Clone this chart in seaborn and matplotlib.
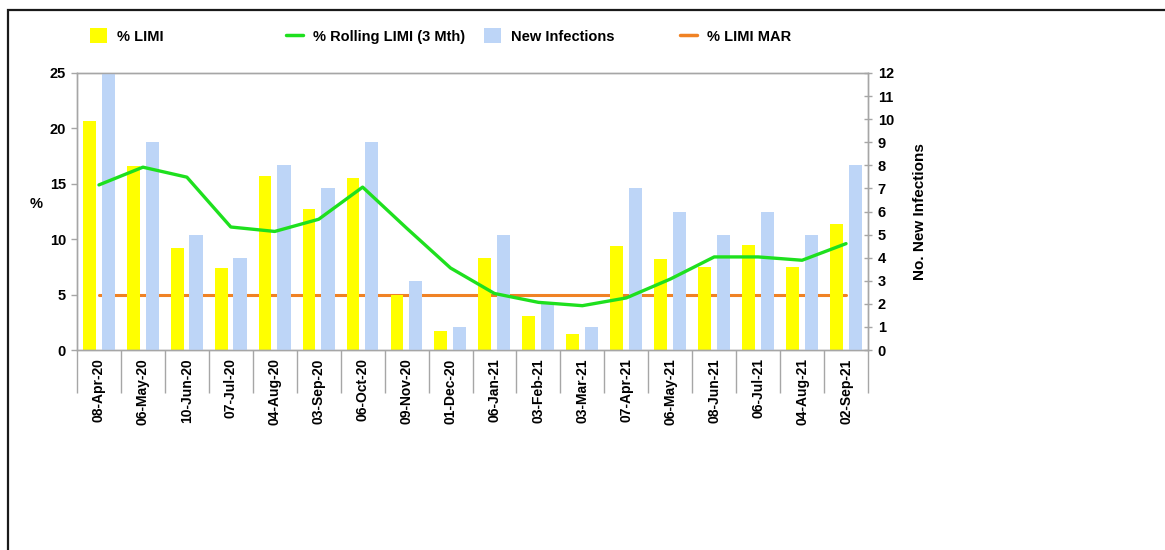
import numpy as np
import pandas as pd
import matplotlib
matplotlib.use("Agg")
import matplotlib.pyplot as plt
from matplotlib.patches import Rectangle, Patch
from matplotlib.lines import Line2D
import seaborn as sns

# Set style
sns.set_theme(style="white")
plt.rcParams["font.family"] = ["Liberation Sans", "DejaVu Sans"]
plt.rcParams["font.weight"] = "bold"
plt.rcParams["text.color"] = "black"
plt.rcParams["axes.labelcolor"] = "black"
plt.rcParams["xtick.labelcolor"] = "black"
plt.rcParams["ytick.labelcolor"] = "black"

# === Data ===
dates = ["08-Apr-20", "06-May-20", "10-Jun-20", "07-Jul-20", "04-Aug-20", "03-Sep-20",
         "06-Oct-20", "09-Nov-20", "01-Dec-20", "06-Jan-21", "03-Feb-21", "03-Mar-21",
         "07-Apr-21", "06-May-21", "08-Jun-21", "06-Jul-21", "04-Aug-21", "02-Sep-21"]
limi_pct = [20.7, 16.6, 9.2, 7.4, 15.7, 12.7, 15.5, 5.0, 1.7, 8.3, 3.1, 1.45,
            9.35, 8.2, 7.5, 9.5, 7.5, 11.4]
rolling_pct = [14.9, 16.5, 15.6, 11.1, 10.7, 11.8, 14.7, 11.0, 7.4, 5.1, 4.3, 4.0,
               4.7, 6.4, 8.4, 8.4, 8.1, 9.6]
new_infections = [12, 9, 5, 4, 8, 7, 9, 3, 1, 5, 2, 1, 7, 6, 5, 6, 5, 8]
limi_mar = [5, 5, 5, 5, 5, 5, 5, 5, 5, 5, 5, 5, 5, 5, 5, 5, 5, 5]

df = pd.DataFrame({"Date": dates, "LIMI": limi_pct, "Rolling": rolling_pct,
                   "Infections": new_infections, "MAR": limi_mar})
df["pos"] = np.arange(len(df))

# === Colours ===
c_yellow = "#FFFF00"
c_blue = "#BDD5F7"
c_green = "#1EE01E"
c_orange = "#F08224"
c_axis = "#A6A6A6"

W, H = 1165, 550
fig = plt.figure(figsize=(W / 100, H / 100), dpi=100)
fig.patch.set_facecolor("white")
ax = fig.add_axes([77 / W, 1 - 350 / H, (868 - 77) / W, (350 - 73) / H])
ax2 = ax.twinx()
ax3 = ax.twinx()

# === Orange target line + yellow bars (left axis, back) ===
sns.lineplot(x=df["pos"], y=df["MAR"], color=c_orange, linewidth=2.2, ax=ax, zorder=1)
sns.barplot(x=df["pos"] - 0.22, y=df["LIMI"], native_scale=True, width=0.29,
            color=c_yellow, saturation=1, errorbar=None, linewidth=0, ax=ax, zorder=2)

# === Blue bars (right axis) ===
sns.barplot(x=df["pos"] + 0.21, y=df["Infections"], native_scale=True, width=0.30,
            color=c_blue, saturation=1, errorbar=None, linewidth=0, ax=ax2)

# === Green rolling line (front) ===
sns.lineplot(x=df["pos"], y=df["Rolling"], color=c_green, linewidth=2.4, ax=ax3)

# === Axes formatting ===
for a in (ax, ax2, ax3):
    a.set_xlim(-0.5, len(df) - 0.5)
    a.set_xlabel("")
    a.set_ylabel("")
    a.grid(False)

ax.set_ylim(0, 25)
ax3.set_ylim(0, 25)
ax2.set_ylim(0, 12)

ax.set_yticks(np.arange(0, 26, 5))
ax.tick_params(axis="y", which="major", left=True, length=4, width=1, color=c_axis,
               labelsize=10.5, pad=4, labelcolor="black")
ax.set_ylabel("%", rotation=0, fontsize=10.5, fontweight="bold", color="black")
ax.yaxis.set_label_coords(-0.052, 0.5)

ax.set_xticks(np.arange(-0.5, len(df), 1))
ax.set_xticklabels([])
ax.set_xticks(df["pos"], labels=df["Date"], minor=True)
ax.tick_params(axis="x", which="major", bottom=True, length=31, width=1, color=c_axis)
ax.tick_params(axis="x", which="minor", bottom=True, length=0, labelsize=10,
               labelrotation=90, pad=6, labelcolor="black")

ax2.set_yticks(np.arange(0, 13, 1))
ax2.tick_params(axis="y", right=True, direction="inout", length=6, width=1,
                color=c_axis, labelsize=10.5, pad=4, labelcolor="black")
ax2.set_ylabel("No. New Infections", fontsize=11, fontweight="bold", labelpad=14,
               color="black")

ax3.set_yticks([])
ax3.tick_params(axis="y", right=False, labelright=False)
for s in ax3.spines.values():
    s.set_visible(False)

for a in (ax, ax2):
    for s in a.spines.values():
        s.set_color(c_axis)
        s.set_linewidth(1)

# === Legend (four entries spread across the top) ===
entries = [
    (90, Patch(facecolor=c_yellow, edgecolor="none"), "% LIMI"),
    (286, Line2D([], [], color=c_green, linewidth=2.5), "% Rolling LIMI (3 Mth)"),
    (484, Patch(facecolor=c_blue, edgecolor="none"), "New Infections"),
    (680, Line2D([], [], color=c_orange, linewidth=2.5), "% LIMI MAR"),
]
for x0, handle, label in entries:
    leg = fig.legend([handle], [label], loc="center left", bbox_to_anchor=(x0 / W, 1 - 36 / H),
                     frameon=False, borderpad=0, borderaxespad=0, handlelength=1.15,
                     handleheight=1.15, handletextpad=0.7,
                     prop={"size": 10.5, "weight": "bold"})
    for t in leg.get_texts():
        t.set_color("black")

# === Outer frame ===
fig.patches.append(Rectangle((8 / W, -0.1), 1.2, 1.1 - 10 / H, transform=fig.transFigure,
                             fill=False, edgecolor="#1A1A1A", linewidth=1.6))

fig.savefig("out.png", dpi=100, facecolor="white")
